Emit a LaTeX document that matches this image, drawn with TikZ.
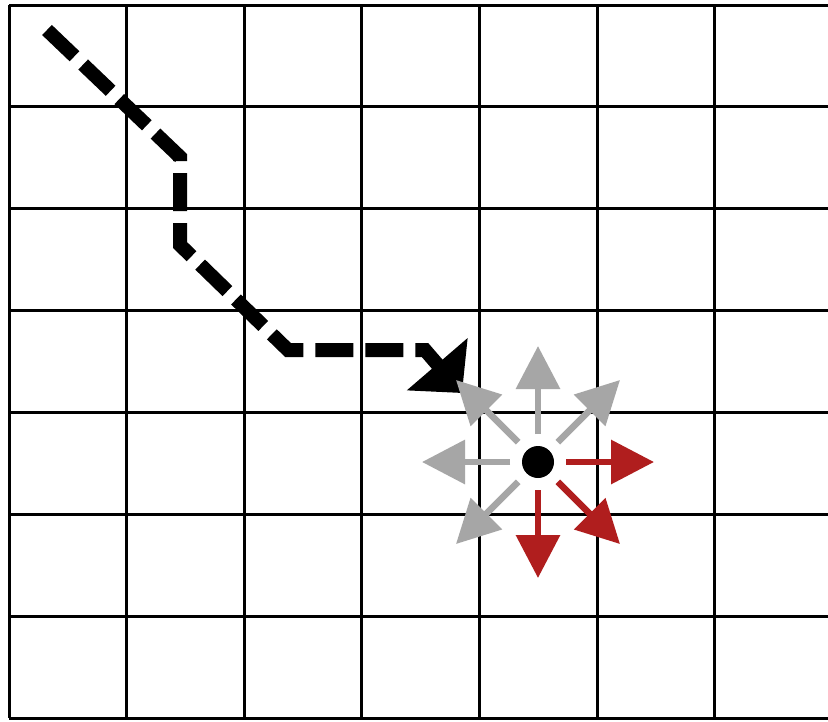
\documentclass[tikz,border=0pt]{standalone}
\usetikzlibrary{arrows.meta}
\definecolor{arrgray}{HTML}{A6A6A6}
\definecolor{arrred}{HTML}{B01E1E}
\begin{document}
\begin{tikzpicture}[x=1pt,y=-1pt,
 gridline/.style={line width=3pt,black},
 pathline/.style={line width=14pt,dash pattern=on 38pt off 12pt,line join=miter,-{Triangle[length=38pt,width=78pt]}},
 moveline/.style={line width=6.5pt,-{Triangle[length=43pt,width=43pt]}},
 dot/.style={circle,fill=black,minimum size=32pt,inner sep=0pt}]
\useasboundingbox (0,0) rectangle (828,721);
\fill[white] (0,0) rectangle (828,721);
\foreach \i in {0,...,6} \draw[gridline] ({9+117.6*\i},5) -- ({9+117.6*\i},718);
\foreach \j in {0,...,7} \draw[gridline] (9,{5+101.9*\j}) -- (828,{5+101.9*\j});
\coordinate (p0) at (47,30);
\coordinate (p1) at (180,157);
\coordinate (p2) at (180,245);
\coordinate (p3) at (288,350);
\coordinate (p4) at (425,350);
\coordinate (p5) at (462,393);
\draw[pathline] (p0) -- (p1) -- (p2) -- (p3) -- (p4) -- (p5);
\node[dot] (c) at (538,462) {};
\foreach \a/\col in {-90/arrgray,-135/arrgray,-45/arrgray,180/arrgray,135/arrgray,0/arrred,45/arrred,90/arrred}
  \draw[moveline,\col] ([shift={(\a:28)}]c.center) -- ([shift={(\a:116)}]c.center);
\end{tikzpicture}
\end{document}
